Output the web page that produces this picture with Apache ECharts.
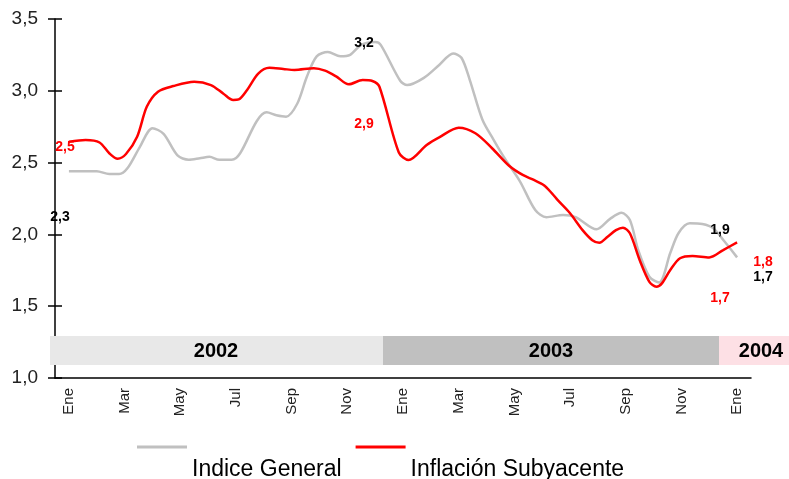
<!DOCTYPE html>
<html>
<head>
<meta charset="utf-8">
<script src="https://cdn.jsdelivr.net/npm/echarts@6/dist/echarts.min.js"></script>
<style>
  html, body { margin: 0; padding: 0; background: #fff; }
  #chart { width: 789px; height: 479px; }
</style>
</head>
<body>
<div id="chart"></div>
<script>
  // meses (Ene 2002 .. Ene 2004)
  let months = ['Ene', 'Feb', 'Mar', 'Abr', 'May', 'Jun', 'Jul', 'Ago', 'Sep', 'Oct', 'Nov', 'Dic',
    'Ene', 'Feb', 'Mar', 'Abr', 'May', 'Jun', 'Jul', 'Ago', 'Sep', 'Oct', 'Nov', 'Dic', 'Ene'];

  // posicion en meses desde Ene 2002 y valor
  let tGeneral = [0, 1.0, 1.45, 1.8, 2.1, 2.55, 3.0, 3.4, 3.9, 4.3, 4.7, 5.05, 5.4, 5.85, 6.15, 6.75, 7.1, 7.45, 7.8,
    8.2, 8.55, 8.9, 9.3, 9.75, 10.1, 10.5, 11.0, 11.2, 11.9, 12.15, 12.75, 13.3, 13.8, 14.1, 14.4, 14.85, 15.25,
    15.65, 16.2, 16.75, 17.15, 17.75, 18.2, 18.95, 19.45, 19.85, 20.15, 20.45, 20.85, 21.2, 21.6, 21.9, 22.3,
    22.75, 23.15, 23.55, 24.0];
  let vGeneral = [2.44, 2.44, 2.42, 2.42, 2.46, 2.61, 2.74, 2.70, 2.55, 2.52, 2.53, 2.54, 2.52, 2.52, 2.565, 2.79,
    2.85, 2.83, 2.82, 2.91, 3.10, 3.24, 3.27, 3.24, 3.25, 3.32, 3.34, 3.32, 3.07, 3.04, 3.09, 3.18, 3.26, 3.23,
    3.075, 2.80, 2.66, 2.53, 2.37, 2.17, 2.12, 2.135, 2.12, 2.035, 2.11, 2.15, 2.10, 1.89, 1.705, 1.665, 1.87,
    2.01, 2.077, 2.072, 2.042, 1.95, 1.84];

  let tSubyacente = [0, 0.6, 1.1, 1.45, 1.75, 2.05, 2.45, 2.8, 3.2, 3.75, 4.5, 5.1, 5.55, 5.9, 6.1, 6.4, 6.8, 7.2,
    7.7, 8.1, 8.8, 9.2, 9.6, 10.05, 10.55, 10.9, 11.15, 11.85, 12.2, 12.85, 13.3, 14.0, 14.6, 15.2, 15.8, 16.3,
    16.7, 17.05, 17.35, 17.55, 18.0, 18.45, 18.8, 19.05, 19.35, 19.65, 19.9, 20.15, 20.5, 20.85, 21.1, 21.3,
    21.6, 21.95, 22.4, 23.0, 23.5, 24.0];
  let vSubyacente = [2.645, 2.657, 2.64, 2.565, 2.527, 2.56, 2.68, 2.89, 2.994, 3.033, 3.063, 3.04, 2.98, 2.936,
    2.94, 3.006, 3.12, 3.16, 3.152, 3.145, 3.157, 3.14, 3.10, 3.045, 3.075, 3.068, 3.03, 2.57, 2.518, 2.623,
    2.676, 2.743, 2.704, 2.60, 2.48, 2.414, 2.379, 2.344, 2.286, 2.24, 2.147, 2.03, 1.96, 1.942, 1.984, 2.03,
    2.047, 2.008, 1.822, 1.67, 1.636, 1.659, 1.752, 1.834, 1.85, 1.84, 1.891, 1.944];

  let years = ['2002', '2003', '2004'];
  let yearColors = ['#e8e8e8', '#c0c0c0', '#fde0e5'];

  let font = 'Liberation Sans, Arial, sans-serif';

  function pairs(t, v) {
    let out = [];
    for (let i = 0; i < t.length; i++) {
      out.push([t[i], v[i]]);
    }
    return out;
  }

  let yearBands = [
    {x: 50, w: 333, cx: 216},
    {x: 383, w: 336, cx: 551},
    {x: 719, w: 70, cx: 761}
  ];
  let graphics = [];
  yearBands.forEach(function (b, i) {
    graphics.push({
      type: 'rect', z: 5, silent: true,
      shape: {x: b.x, y: 336, width: b.w, height: 29},
      style: {fill: yearColors[i]}
    });
    graphics.push({
      type: 'text', z: 6, silent: true, x: b.cx, y: 351,
      style: {text: years[i], font: 'bold 20px ' + font, fill: '#000', align: 'center', verticalAlign: 'middle'}
    });
  });

  let notes = [
    ['2,5', 65, 147, '#ff0000'],
    ['2,3', 60, 217, '#000'],
    ['3,2', 364, 43, '#000'],
    ['2,9', 364, 124, '#ff0000'],
    ['1,9', 720, 230, '#000'],
    ['1,8', 763, 262, '#ff0000'],
    ['1,7', 763, 277, '#000'],
    ['1,7', 720, 298, '#ff0000']
  ];
  notes.forEach(function (n) {
    graphics.push({
      type: 'text', z: 10, silent: true, x: n[1], y: n[2],
      style: {text: n[0], font: 'bold 14px ' + font, fill: n[3], align: 'center', verticalAlign: 'middle'}
    });
  });

  let chart = echarts.init(document.getElementById('chart'));
  let options = {
    animation: false,
    textStyle: {fontFamily: font},
    grid: {left: 55, right: 38, top: 19, bottom: 101, containLabel: false, outerBoundsMode: 'none'},
    legend: {
      left: 137, top: 401, padding: 0,
      icon: 'rect', itemWidth: 50, itemHeight: 3, itemGap: 14,
      // texto debajo de la linea
      formatter: function (name) { return '\n' + name; },
      textStyle: {fontSize: 23, color: '#000', lineHeight: 46},
      data: ['Indice General', 'Inflación Subyacente']
    },
    graphic: graphics,
    xAxis: [
      {
        type: 'category', data: months, boundaryGap: true, position: 'bottom',
        axisLine: {onZero: false, lineStyle: {color: '#000', width: 1.5}},
        axisTick: {interval: 0, length: 4, lineStyle: {color: '#000', width: 1.5}},
        axisLabel: {interval: 1, rotate: 90, fontSize: 15, color: '#222', margin: 10}
      },
      {
        type: 'category', data: months, boundaryGap: true, position: 'bottom', offset: 0,
        axisLine: {show: false, onZero: false},
        axisTick: {interval: 0, inside: true, length: 4, lineStyle: {color: '#000', width: 1.5}},
        axisLabel: {show: false}
      },
      {
        type: 'value', min: -0.5, max: 24.5, show: false
      }
    ],
    yAxis: [
      {
        type: 'value', min: 1, max: 3.5, interval: 0.5,
        axisLine: {show: true, onZero: false, lineStyle: {color: '#000', width: 1.5}},
        axisTick: {show: true, length: 7, lineStyle: {color: '#000', width: 1.5}},
        splitLine: {show: false},
        axisLabel: {
          fontSize: 19, color: '#222', margin: 17,
          formatter: function (v) { return v.toFixed(1).replace('.', ','); }
        }
      },
      {
        type: 'value', min: 1, max: 3.5, interval: 0.5, position: 'left', offset: 0,
        axisLine: {show: false, onZero: false},
        axisTick: {show: true, inside: true, length: 7, lineStyle: {color: '#000', width: 1.5}},
        splitLine: {show: false},
        axisLabel: {show: false}
      }
    ],
    series: [
      {
        name: 'Indice General', type: 'line', xAxisIndex: 2, yAxisIndex: 0,
        data: pairs(tGeneral, vGeneral), smooth: 0.3, symbol: 'none',
        lineStyle: {color: '#c0c0c0', width: 2.5}, itemStyle: {color: '#c0c0c0'}, z: 3
      },
      {
        name: 'Inflación Subyacente', type: 'line', xAxisIndex: 2, yAxisIndex: 0,
        data: pairs(tSubyacente, vSubyacente), smooth: 0.3, symbol: 'none',
        lineStyle: {color: '#ff0000', width: 2.5}, itemStyle: {color: '#ff0000'}, z: 4
      }
    ]
  };
  chart.setOption(options);
</script>
</body>
</html>
